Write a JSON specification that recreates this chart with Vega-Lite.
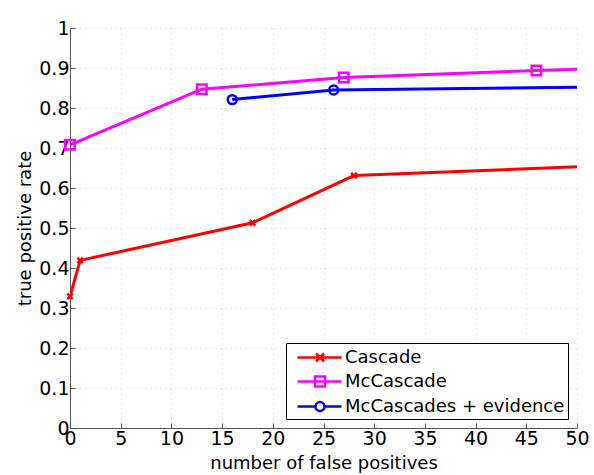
{
  "$schema": "https://vega.github.io/schema/vega-lite/v6.json",
  "width": 507,
  "height": 400,
  "autosize": "none",
  "padding": {"left": 70, "top": 28, "right": 17, "bottom": 47},
  "background": "white",
  "config": {
    "font": "DejaVu Sans",
    "view": {"stroke": null},
    "axis": {"labelFontSize": 19, "titleFontSize": 18}
  },
  "data": {
    "values": [
      {"method": "Cascade", "fp": 0, "tpr": 0.329},
      {"method": "Cascade", "fp": 1, "tpr": 0.419},
      {"method": "Cascade", "fp": 18, "tpr": 0.513},
      {"method": "Cascade", "fp": 28, "tpr": 0.631},
      {"method": "Cascade", "fp": 50, "tpr": 0.653},
      {"method": "McCascade", "fp": 0, "tpr": 0.708},
      {"method": "McCascade", "fp": 13, "tpr": 0.847},
      {"method": "McCascade", "fp": 27, "tpr": 0.876},
      {"method": "McCascade", "fp": 46, "tpr": 0.894},
      {"method": "McCascade", "fp": 50, "tpr": 0.897},
      {"method": "McCascades + evidence", "fp": 16, "tpr": 0.821},
      {"method": "McCascades + evidence", "fp": 26, "tpr": 0.845},
      {"method": "McCascades + evidence", "fp": 50, "tpr": 0.852}
    ]
  },
  "encoding": {
    "x": {
      "field": "fp",
      "type": "quantitative",
      "scale": {"domain": [0, 50], "nice": false},
      "axis": {
        "title": "number of false positives",
        "values": [0, 5, 10, 15, 20, 25, 30, 35, 40, 45, 50],
        "format": "~g",
        "labelFont": "DejaVu Sans", "labelFontSize": 19, "labelColor": "black", "labelPadding": 6, "labelFlush": false,
        "titleFont": "DejaVu Sans", "titleFontSize": 18, "titleFontWeight": "normal", "titleColor": "black",
        "titleBaseline": "alphabetic", "titleY": 40,
        "domainColor": "#555555", "tickColor": "#555555", "tickSize": -5,
        "gridColor": "#d0d0d0", "gridDash": [1, 4],
        "encode": {"labels": {"update": {"fontSize": {"value": 19}}}}
      }
    },
    "y": {
      "field": "tpr",
      "type": "quantitative",
      "scale": {"domain": [0, 1], "nice": false},
      "axis": {
        "title": "true positive rate",
        "values": [0, 0.1, 0.2, 0.3, 0.4, 0.5, 0.6, 0.7, 0.8, 0.9, 1],
        "format": ".1~f",
        "labelFont": "DejaVu Sans", "labelFontSize": 19, "labelColor": "black", "labelPadding": 6, "labelFlush": false,
        "titleFont": "DejaVu Sans", "titleFontSize": 18, "titleFontWeight": "normal", "titleColor": "black",
        "titleBaseline": "alphabetic", "titleX": -40,
        "domainColor": "#555555", "tickColor": "#555555", "tickSize": -5,
        "gridColor": "#d0d0d0", "gridDash": [1, 4],
        "encode": {"labels": {"update": {"fontSize": {"value": 19}}}}
      }
    }
  },
  "layer": [
    {
      "mark": {"type": "line", "strokeWidth": 3, "clip": true},
      "encoding": {
        "color": {
          "field": "method",
          "type": "nominal",
          "scale": {
            "domain": ["Cascade", "McCascade", "McCascades + evidence"],
            "range": ["#ff0000", "#ff00ff", "#0000ff"]
          },
          "legend": {
            "title": null,
            "orient": "bottom-right",
            "offset": 9,
            "strokeColor": "black",
            "fillColor": "white",
            "padding": 3,
            "labelFont": "DejaVu Sans",
            "labelFontSize": 18,
            "labelColor": "black",
            "labelLimit": 0,
            "labelOffset": 33,
            "rowPadding": 3,
            "symbolSize": 400,
            "symbolStrokeWidth": 2.5,
            "symbolFillColor": "transparent",
            "encode": {
              "symbols": {
                "update": {
                  "shape": {"signal": "datum.value === 'Cascade' ? 'M-0.3,0L4.1,0M1.55,-0.4L2.35,0.4M1.55,0.4L2.35,-0.4' : datum.value === 'McCascade' ? 'M-0.3,0L4.1,0M1.45,-0.5L2.45,-0.5L2.45,0.5L1.45,0.5Z' : 'M-0.3,0L1.5,0A0.45,0.45,0,1,1,2.4,0A0.45,0.45,0,1,1,1.5,0M2.4,0L4.1,0'"},
                  "strokeWidth": {"value": 2.5},
                  "size": {"value": 400}
                }
              }
            }
          }
        }
      }
    },
    {
      "transform": [{"filter": "datum.method === 'Cascade' && datum.fp < 50"}],
      "mark": {"type": "point", "shape": "M-1,-1L1,1M-1,1L1,-1", "size": 30, "filled": false, "strokeWidth": 2.5, "opacity": 1, "color": "#ff0000"}
    },
    {
      "transform": [{"filter": "datum.method === 'McCascade' && datum.fp < 50"}],
      "mark": {"type": "point", "shape": "square", "size": 90, "filled": false, "strokeWidth": 2.5, "opacity": 1, "color": "#ff00ff"}
    },
    {
      "transform": [{"filter": "datum.method === 'McCascades + evidence' && datum.fp < 50"}],
      "mark": {"type": "point", "shape": "circle", "size": 80, "filled": false, "strokeWidth": 2.5, "opacity": 1, "color": "#0000ff"}
    }
  ]
}
